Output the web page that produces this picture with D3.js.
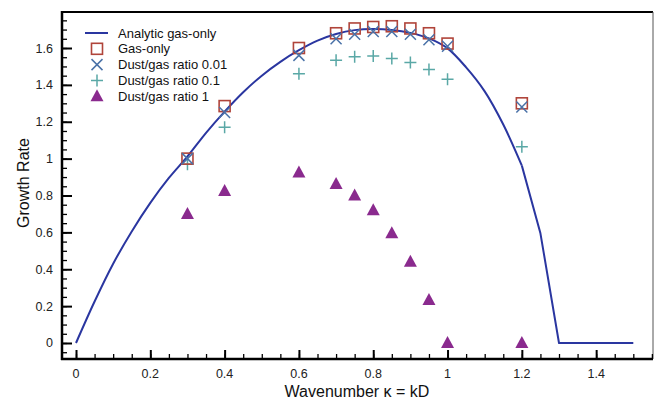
<!DOCTYPE html>
<html><head><meta charset="utf-8">
<script src="https://cdn.jsdelivr.net/npm/d3@7"></script>
<style>
body{margin:0;background:#fff;}
svg{display:block;font-family:"Liberation Sans",Arial,Helvetica,sans-serif;}
</style></head>
<body><svg id="c" width="654" height="403"></svg>
<script>
// Analytic gas-only curve
const analyticK = [0,0.05,0.1,0.15,0.2,0.25,0.3,0.35,0.4,0.45,0.5,0.55,0.6,0.65,0.7,0.75,0.8,0.85,0.9,0.95,1.0,1.05,1.1,1.15,1.2,1.25,1.3,1.35,1.4,1.45,1.5];
const analyticG = [0,0.225,0.43,0.605,0.76,0.895,1.012,1.14,1.255,1.36,1.45,1.525,1.588,1.64,1.676,1.697,1.703,1.698,1.682,1.652,1.598,1.495,1.365,1.185,0.962,0.595,0,0,0,0,0];
// Simulation wavenumbers
const simK = [0.3,0.4,0.6,0.7,0.75,0.8,0.85,0.9,0.95,1.0,1.2];
const gasOnly = [1.0,1.285,1.60,1.68,1.706,1.714,1.718,1.706,1.68,1.624,1.30];
const dust001 = [1.0,1.25,1.56,1.65,1.675,1.69,1.69,1.675,1.645,1.61,1.28];
const dust01  = [0.97,1.17,1.46,1.534,1.552,1.556,1.543,1.521,1.483,1.431,1.064];
const dust1   = [0.70,0.825,0.925,0.862,0.80,0.72,0.595,0.44,0.233,0.0,0.0];
const xTicks = [0,0.2,0.4,0.6,0.8,1,1.2,1.4];
const yTicks = [0,0.2,0.4,0.6,0.8,1,1.2,1.4,1.6];
const legendLabels = ["Analytic gas-only","Gas-only","Dust/gas ratio 0.01","Dust/gas ratio 0.1","Dust/gas ratio 1"];

const colLine="#2a36a0", colSq="#b0443a", colX="#4a72a8", colPlus="#5aa8a6", colTri="#8a2a8e";
const svg = d3.select("#c");
const L=62,R=653,T=12,B=359;
const x = d3.scaleLinear().domain([-0.0377,1.553]).range([L,R]);
const y = d3.scaleLinear().domain([-0.0868,1.7953]).range([B,T]);

// frame
svg.append("line").attr("x1",L).attr("x2",R).attr("y1",T).attr("y2",T).attr("stroke","#000").attr("stroke-width",2);
svg.append("line").attr("x1",R).attr("x2",R).attr("y1",T).attr("y2",B).attr("stroke","#555").attr("stroke-width",1);

// axes with inward ticks
const xMinor = d3.range(0,1.551,0.05);
const yMinor = d3.range(-0.05,1.7951,0.05);
const gx = svg.append("g").attr("transform",`translate(0,${B})`);
gx.call(d3.axisTop(x).tickValues(xMinor).tickSize(5).tickFormat(""));
gx.select(".domain").remove();
gx.selectAll(".tick line").attr("stroke-width",1.3);
const gx2 = svg.append("g").attr("transform",`translate(0,${B})`);
gx2.call(d3.axisTop(x).tickValues(xTicks).tickSize(9).tickFormat(""));
gx2.select(".domain").remove();
gx2.selectAll(".tick line").attr("stroke-width",2);
svg.append("g").selectAll("text").data(xTicks).join("text")
  .attr("x",d=>x(d)).attr("y",378).attr("text-anchor","middle")
  .attr("font-size",12.5).attr("fill","#222").text(d=>d3.format("")(d));

const gy = svg.append("g").attr("transform",`translate(${L},0)`);
gy.call(d3.axisRight(y).tickValues(yMinor).tickSize(5).tickFormat(""));
gy.select(".domain").remove();
gy.selectAll(".tick line").attr("stroke-width",1.3);
const gy2 = svg.append("g").attr("transform",`translate(${L},0)`);
gy2.call(d3.axisRight(y).tickValues(yTicks).tickSize(10).tickFormat(""));
gy2.select(".domain").remove();
gy2.selectAll(".tick line").attr("stroke-width",2);
svg.append("g").selectAll("text").data(yTicks).join("text")
  .attr("x",53).attr("y",d=>y(d)+4.5).attr("text-anchor","end")
  .attr("font-size",12.5).attr("fill","#222").text(d=>d3.format("")(d));

svg.append("line").attr("x1",L).attr("x2",L).attr("y1",T-1).attr("y2",B+1).attr("stroke","#000").attr("stroke-width",2.5);
svg.append("line").attr("x1",L-1).attr("x2",R).attr("y1",B).attr("y2",B).attr("stroke","#000").attr("stroke-width",2.5);

// axis titles
svg.append("text").attr("transform","translate(29,183) rotate(-90)").attr("text-anchor","middle")
  .attr("font-size",16).attr("fill","#111").text("Growth Rate");
svg.append("text").attr("x",357).attr("y",397).attr("text-anchor","middle")
  .attr("font-size",16).attr("fill","#111").text("Wavenumber κ = kD");

// analytic line: smooth rising part, straight segments in the steep cut-off tail
const lineData = analyticK.map((k,i)=>[k,analyticG[i]]);
const smoothPart = lineData.filter(d=>d[0]<=1.2001);
const tailPart = lineData.filter(d=>d[0]>=1.1999);
svg.append("path").datum(smoothPart)
  .attr("d",d3.line().x(d=>x(d[0])).y(d=>y(d[1])).curve(d3.curveCatmullRom))
  .attr("fill","none").attr("stroke",colLine).attr("stroke-width",2).attr("stroke-linejoin","round");
svg.append("path").datum(tailPart)
  .attr("d",d3.line().x(d=>x(d[0])).y(d=>y(d[1])))
  .attr("fill","none").attr("stroke",colLine).attr("stroke-width",2).attr("stroke-linejoin","round");

// markers
const sq = (g,cx,cy)=>g.append("rect").attr("x",cx-5.5).attr("y",cy-5.5).attr("width",11).attr("height",11)
  .attr("fill","none").attr("stroke",colSq).attr("stroke-width",1.6);
const cross = (g,cx,cy)=>g.append("path").attr("d",`M${cx-5.5},${cy-5.5}L${cx+5.5},${cy+5.5}M${cx-5.5},${cy+5.5}L${cx+5.5},${cy-5.5}`)
  .attr("stroke",colX).attr("stroke-width",1.5).attr("fill","none");
const plus = (g,cx,cy)=>g.append("path").attr("d",`M${cx-6},${cy}L${cx+6},${cy}M${cx},${cy-6}L${cx},${cy+6}`)
  .attr("stroke",colPlus).attr("stroke-width",1.5).attr("fill","none");
const tri = (g,cx,cy)=>g.append("path").attr("d",`M${cx},${cy-7}L${cx+6.5},${cy+5}L${cx-6.5},${cy+5}Z`)
  .attr("fill",colTri);

const gm = svg.append("g");
simK.forEach((k,i)=>{ tri(gm,x(k),y(dust1[i])); });
simK.forEach((k,i)=>{ plus(gm,x(k),y(dust01[i])); });
simK.forEach((k,i)=>{ sq(gm,x(k),y(gasOnly[i])); });
simK.forEach((k,i)=>{ cross(gm,x(k),y(dust001[i])); });

// legend
const lg = svg.append("g");
const ly0 = 33, ldy = 15.8, lx = 97;
lg.append("line").attr("x1",85).attr("x2",108).attr("y1",ly0).attr("y2",ly0).attr("stroke",colLine).attr("stroke-width",2);
sq(lg,lx,ly0+ldy);
cross(lg,lx,ly0+2*ldy);
plus(lg,lx,ly0+3*ldy);
tri(lg,lx,ly0+4*ldy);
legendLabels.forEach((t,i)=>{
  lg.append("text").attr("x",118).attr("y",ly0+i*ldy+4.5).attr("font-size",13).attr("fill","#111").text(t);
});
</script></body></html>
